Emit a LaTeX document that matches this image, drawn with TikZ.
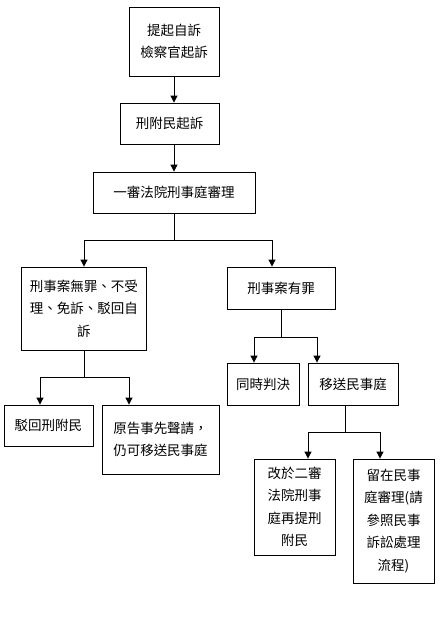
\documentclass[tikz,border=0pt]{standalone}
\usepackage{fontspec}
\newfontfamily\cjk{Noto Sans CJK TC}
\usetikzlibrary{arrows.meta}
\tikzset{>={Triangle[length=7pt,width=7pt]}}
\tikzset{box/.style={draw, line width=0.8pt, align=center, inner sep=0pt,
    font=\cjk\fontsize{13.5}{22.5}\selectfont}}

\begin{document}
\begin{tikzpicture}[x=1pt,y=-1pt]
    \useasboundingbox (0,0) rectangle (446,633);
    \node[box, minimum width=90pt, minimum height=69pt] (start) at (174,41.5) {提起自訴\\檢察官起訴};
    \node[box, minimum width=99pt, minimum height=41pt] (fumin) at (169.5,123.5) {刑附民起訴};
    \node[box, minimum width=162pt, minimum height=41pt] (trial) at (174,192.5) {一審法院刑事庭審理};
    \node[box, minimum width=125pt, minimum height=83pt] (acquit) at (84,308.5) {刑事案無罪、不受\\理、免訴、駁回自\\訴};
    \node[box, minimum width=108pt, minimum height=42pt] (guilty) at (281,288) {刑事案有罪};
    \node[box, minimum width=89pt, minimum height=41pt] (dismiss) at (48.5,425.5) {駁回刑附民};
    \node[box, minimum width=117pt, minimum height=69pt] (request) at (160.5,439.5) {原告事先聲請，\\仍可移送民事庭};
    \node[box, minimum width=72pt, minimum height=42pt] (joint) at (263,384) {同時判決};
    \node[box, minimum width=90pt, minimum height=42pt] (civil) at (353,384) {移送民事庭};
    \node[box, minimum width=81pt, minimum height=96pt] (second) at (294.5,507) {改於二審\\法院刑事\\庭再提刑\\附民};
    \node[box, minimum width=81pt, minimum height=124pt] (stay) at (393.5,521) {留在民事\\庭審理(請\\參照民事\\訴訟處理\\流程)};

    % junctions
    \coordinate (j1) at (174,240);
    \coordinate (j2) at (84,377);
    \coordinate (j3) at (281,337);
    \coordinate (j4) at (345,432);

    \begin{scope}[line width=0.8pt]
    \draw[->] (start.south) -- (start.south |- fumin.north);
    \draw[->] (trial.north |- fumin.south) -- (trial.north);
    \draw (trial.south) -- (j1);
    \draw[->] (j1) -| (acquit.north);
    \draw[->] (j1) -| ([xshift=-9pt]guilty.north);
    \draw (acquit.south) -- (j2);
    \draw[->] (j2) -| ([xshift=-8.5pt]dismiss.north);
    \draw[->] (j2) -| ([xshift=-31.5pt]request.north);
    \draw (guilty.south) -- (j3);
    \draw[->] (j3) -| ([xshift=-9pt]joint.north);
    \draw[->] (j3) -| ([xshift=-36pt]civil.north);
    \draw ([xshift=-8pt]civil.south) -- (j4);
    \draw[->] (j4) -| ([xshift=13.5pt]second.north);
    \draw[->] (j4) -| ([xshift=-13.5pt]stay.north);
    \end{scope}
\end{tikzpicture}
\end{document}
